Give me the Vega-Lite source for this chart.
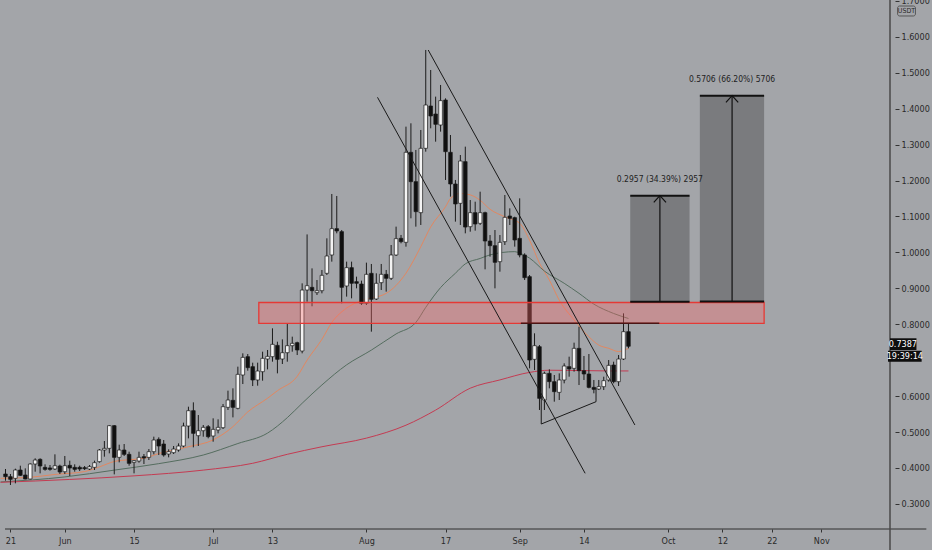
{
  "$schema": "https://vega.github.io/schema/vega-lite/v6.json",
  "width": 895,
  "height": 529,
  "autosize": {"type": "none"},
  "padding": {"left": 0, "top": 0, "right": 37, "bottom": 21},
  "background": "#a3a5a9",
  "config": {"view": {"stroke": null}},
  "datasets": {
    "candles": [
      {"d": "2020-05-20", "o": 0.3832, "h": 0.3971, "l": 0.3646, "c": 0.3757},
      {"d": "2020-05-21", "o": 0.3757, "h": 0.3832, "l": 0.3526, "c": 0.3683},
      {"d": "2020-05-22", "o": 0.3711, "h": 0.3980, "l": 0.3572, "c": 0.3943},
      {"d": "2020-05-23", "o": 0.3943, "h": 0.4063, "l": 0.3776, "c": 0.3794},
      {"d": "2020-05-24", "o": 0.3804, "h": 0.3989, "l": 0.3683, "c": 0.3693},
      {"d": "2020-05-25", "o": 0.3693, "h": 0.4128, "l": 0.3683, "c": 0.4110},
      {"d": "2020-05-26", "o": 0.4110, "h": 0.4268, "l": 0.3896, "c": 0.4221},
      {"d": "2020-05-27", "o": 0.4240, "h": 0.4268, "l": 0.3850, "c": 0.4054},
      {"d": "2020-05-28", "o": 0.4017, "h": 0.4101, "l": 0.3924, "c": 0.3961},
      {"d": "2020-05-29", "o": 0.4000, "h": 0.4082, "l": 0.3924, "c": 0.3961},
      {"d": "2020-05-30", "o": 0.3971, "h": 0.4379, "l": 0.3943, "c": 0.4063},
      {"d": "2020-05-31", "o": 0.4054, "h": 0.4091, "l": 0.3832, "c": 0.3887},
      {"d": "2020-06-01", "o": 0.3896, "h": 0.4333, "l": 0.3832, "c": 0.4063},
      {"d": "2020-06-02", "o": 0.4073, "h": 0.4203, "l": 0.3776, "c": 0.3998},
      {"d": "2020-06-03", "o": 0.4017, "h": 0.4101, "l": 0.3896, "c": 0.3961},
      {"d": "2020-06-04", "o": 0.4017, "h": 0.4063, "l": 0.3915, "c": 0.3971},
      {"d": "2020-06-05", "o": 0.4008, "h": 0.4054, "l": 0.3943, "c": 0.3980},
      {"d": "2020-06-06", "o": 0.3971, "h": 0.4082, "l": 0.3943, "c": 0.4036},
      {"d": "2020-06-07", "o": 0.4017, "h": 0.4203, "l": 0.3943, "c": 0.4147},
      {"d": "2020-06-08", "o": 0.4175, "h": 0.4527, "l": 0.4147, "c": 0.4499},
      {"d": "2020-06-09", "o": 0.4499, "h": 0.4750, "l": 0.4314, "c": 0.4546},
      {"d": "2020-06-10", "o": 0.4546, "h": 0.5195, "l": 0.4407, "c": 0.5177},
      {"d": "2020-06-11", "o": 0.5177, "h": 0.5195, "l": 0.3822, "c": 0.4295},
      {"d": "2020-06-12", "o": 0.4295, "h": 0.4648, "l": 0.4156, "c": 0.4499},
      {"d": "2020-06-13", "o": 0.4499, "h": 0.4666, "l": 0.4333, "c": 0.4379},
      {"d": "2020-06-14", "o": 0.4379, "h": 0.4453, "l": 0.4063, "c": 0.4128},
      {"d": "2020-06-15", "o": 0.4156, "h": 0.4221, "l": 0.3850, "c": 0.4203},
      {"d": "2020-06-16", "o": 0.4193, "h": 0.4453, "l": 0.4147, "c": 0.4295},
      {"d": "2020-06-17", "o": 0.4314, "h": 0.4388, "l": 0.4110, "c": 0.4277},
      {"d": "2020-06-18", "o": 0.4295, "h": 0.4527, "l": 0.4221, "c": 0.4453},
      {"d": "2020-06-19", "o": 0.4453, "h": 0.4871, "l": 0.4379, "c": 0.4778},
      {"d": "2020-06-20", "o": 0.4796, "h": 0.4852, "l": 0.4360, "c": 0.4611},
      {"d": "2020-06-21", "o": 0.4666, "h": 0.4778, "l": 0.4314, "c": 0.4360},
      {"d": "2020-06-22", "o": 0.4388, "h": 0.4518, "l": 0.4295, "c": 0.4453},
      {"d": "2020-06-23", "o": 0.4425, "h": 0.4611, "l": 0.4388, "c": 0.4527},
      {"d": "2020-06-24", "o": 0.4499, "h": 0.4685, "l": 0.4453, "c": 0.4611},
      {"d": "2020-06-25", "o": 0.4611, "h": 0.5260, "l": 0.4574, "c": 0.5167},
      {"d": "2020-06-26", "o": 0.5167, "h": 0.5705, "l": 0.4824, "c": 0.5594},
      {"d": "2020-06-27", "o": 0.5594, "h": 0.5826, "l": 0.4574, "c": 0.4963},
      {"d": "2020-06-28", "o": 0.4898, "h": 0.5473, "l": 0.4611, "c": 0.5037},
      {"d": "2020-06-29", "o": 0.5037, "h": 0.5195, "l": 0.4870, "c": 0.5130},
      {"d": "2020-06-30", "o": 0.5149, "h": 0.5195, "l": 0.4824, "c": 0.4870},
      {"d": "2020-07-01", "o": 0.4889, "h": 0.5381, "l": 0.4731, "c": 0.5074},
      {"d": "2020-07-02", "o": 0.5056, "h": 0.5353, "l": 0.4963, "c": 0.5130},
      {"d": "2020-07-03", "o": 0.5121, "h": 0.5780, "l": 0.5084, "c": 0.5705},
      {"d": "2020-07-04", "o": 0.5687, "h": 0.6151, "l": 0.5613, "c": 0.5891},
      {"d": "2020-07-05", "o": 0.5882, "h": 0.6216, "l": 0.5408, "c": 0.5687},
      {"d": "2020-07-06", "o": 0.5659, "h": 0.6819, "l": 0.5631, "c": 0.6605},
      {"d": "2020-07-07", "o": 0.6587, "h": 0.7190, "l": 0.6336, "c": 0.7078},
      {"d": "2020-07-08", "o": 0.7097, "h": 0.7171, "l": 0.6707, "c": 0.6791},
      {"d": "2020-07-09", "o": 0.6819, "h": 0.6930, "l": 0.6280, "c": 0.6448},
      {"d": "2020-07-10", "o": 0.6448, "h": 0.6930, "l": 0.6290, "c": 0.6698},
      {"d": "2020-07-11", "o": 0.6679, "h": 0.7236, "l": 0.6429, "c": 0.7051},
      {"d": "2020-07-12", "o": 0.7032, "h": 0.7283, "l": 0.6744, "c": 0.7106},
      {"d": "2020-07-13", "o": 0.7097, "h": 0.7886, "l": 0.6958, "c": 0.7440},
      {"d": "2020-07-14", "o": 0.7412, "h": 0.7514, "l": 0.6633, "c": 0.7023},
      {"d": "2020-07-15", "o": 0.7032, "h": 0.7579, "l": 0.6893, "c": 0.7208},
      {"d": "2020-07-16", "o": 0.7208, "h": 0.8006, "l": 0.6958, "c": 0.7403},
      {"d": "2020-07-17", "o": 0.7403, "h": 0.7654, "l": 0.7236, "c": 0.7468},
      {"d": "2020-07-18", "o": 0.7487, "h": 0.7514, "l": 0.7143, "c": 0.7283},
      {"d": "2020-07-19", "o": 0.7255, "h": 0.9138, "l": 0.7190, "c": 0.8952},
      {"d": "2020-07-20", "o": 0.8952, "h": 1.0500, "l": 0.8628, "c": 0.9073},
      {"d": "2020-07-21", "o": 0.9027, "h": 0.9555, "l": 0.8500, "c": 0.8934},
      {"d": "2020-07-22", "o": 0.8879, "h": 0.9231, "l": 0.8814, "c": 0.8934},
      {"d": "2020-07-23", "o": 0.8934, "h": 0.9510, "l": 0.8860, "c": 0.9361},
      {"d": "2020-07-24", "o": 0.9417, "h": 1.0391, "l": 0.9370, "c": 0.9899},
      {"d": "2020-07-25", "o": 0.9927, "h": 1.1625, "l": 0.9742, "c": 1.0660},
      {"d": "2020-07-26", "o": 1.0660, "h": 1.1569, "l": 1.0530, "c": 1.0595},
      {"d": "2020-07-27", "o": 1.0577, "h": 1.0623, "l": 0.8582, "c": 0.9027},
      {"d": "2020-07-28", "o": 0.9064, "h": 0.9742, "l": 0.8768, "c": 0.9575},
      {"d": "2020-07-29", "o": 0.9575, "h": 0.9742, "l": 0.8721, "c": 0.9139},
      {"d": "2020-07-30", "o": 0.9185, "h": 0.9324, "l": 0.8999, "c": 0.9139},
      {"d": "2020-07-31", "o": 0.9120, "h": 0.9213, "l": 0.8535, "c": 0.8582},
      {"d": "2020-08-01", "o": 0.8582, "h": 0.9714, "l": 0.8535, "c": 0.9389},
      {"d": "2020-08-02", "o": 0.9417, "h": 0.9677, "l": 0.7793, "c": 0.8693},
      {"d": "2020-08-03", "o": 0.8703, "h": 0.9417, "l": 0.8675, "c": 0.9139},
      {"d": "2020-08-04", "o": 0.9157, "h": 0.9677, "l": 0.8953, "c": 0.9389},
      {"d": "2020-08-05", "o": 0.9389, "h": 0.9510, "l": 0.8907, "c": 0.9278},
      {"d": "2020-08-06", "o": 0.9278, "h": 1.0205, "l": 0.9231, "c": 0.9927},
      {"d": "2020-08-07", "o": 0.9927, "h": 1.0716, "l": 0.9899, "c": 1.0382},
      {"d": "2020-08-08", "o": 1.0391, "h": 1.0484, "l": 1.0252, "c": 1.0298},
      {"d": "2020-08-09", "o": 1.0280, "h": 1.3499, "l": 1.0159, "c": 1.2785},
      {"d": "2020-08-10", "o": 1.2785, "h": 1.3592, "l": 1.0948, "c": 1.1968},
      {"d": "2020-08-11", "o": 1.1968, "h": 1.2850, "l": 1.0716, "c": 1.1133},
      {"d": "2020-08-12", "o": 1.1105, "h": 1.3406, "l": 1.0762, "c": 1.2896},
      {"d": "2020-08-13", "o": 1.2896, "h": 1.5633, "l": 1.2803, "c": 1.4102},
      {"d": "2020-08-14", "o": 1.4074, "h": 1.5076, "l": 1.3453, "c": 1.3796},
      {"d": "2020-08-15", "o": 1.3851, "h": 1.4334, "l": 1.3081, "c": 1.3564},
      {"d": "2020-08-16", "o": 1.3545, "h": 1.4659, "l": 1.3360, "c": 1.4223},
      {"d": "2020-08-17", "o": 1.4241, "h": 1.4287, "l": 1.2015, "c": 1.2803},
      {"d": "2020-08-18", "o": 1.2785, "h": 1.3267, "l": 1.1551, "c": 1.1903},
      {"d": "2020-08-19", "o": 1.1903, "h": 1.2015, "l": 1.0855, "c": 1.1347},
      {"d": "2020-08-20", "o": 1.1365, "h": 1.2710, "l": 1.0762, "c": 1.2543},
      {"d": "2020-08-21", "o": 1.2525, "h": 1.2942, "l": 1.0530, "c": 1.0705},
      {"d": "2020-08-22", "o": 1.0715, "h": 1.1457, "l": 1.0576, "c": 1.1105},
      {"d": "2020-08-23", "o": 1.1105, "h": 1.1411, "l": 1.0604, "c": 1.0789},
      {"d": "2020-08-24", "o": 1.0808, "h": 1.1689, "l": 1.0762, "c": 1.1105},
      {"d": "2020-08-25", "o": 1.1105, "h": 1.1133, "l": 0.9528, "c": 1.0316},
      {"d": "2020-08-26", "o": 1.0316, "h": 1.0483, "l": 0.9880, "c": 1.0186},
      {"d": "2020-08-27", "o": 1.0186, "h": 1.0622, "l": 0.8999, "c": 0.9723},
      {"d": "2020-08-28", "o": 0.9741, "h": 1.0483, "l": 0.9463, "c": 1.0279},
      {"d": "2020-08-29", "o": 1.0298, "h": 1.1597, "l": 1.0205, "c": 1.0975},
      {"d": "2020-08-30", "o": 1.1012, "h": 1.1225, "l": 1.0762, "c": 1.0947},
      {"d": "2020-08-31", "o": 1.0966, "h": 1.0994, "l": 1.0159, "c": 1.0344},
      {"d": "2020-09-01", "o": 1.0390, "h": 1.1504, "l": 0.9862, "c": 0.9927},
      {"d": "2020-09-02", "o": 0.9927, "h": 0.9973, "l": 0.9231, "c": 0.9296},
      {"d": "2020-09-03", "o": 0.9324, "h": 0.9370, "l": 0.6772, "c": 0.7004},
      {"d": "2020-09-04", "o": 0.7023, "h": 0.7747, "l": 0.6726, "c": 0.7403},
      {"d": "2020-09-05", "o": 0.7375, "h": 0.7422, "l": 0.5613, "c": 0.5937},
      {"d": "2020-09-06", "o": 0.5891, "h": 0.6680, "l": 0.5613, "c": 0.6633},
      {"d": "2020-09-07", "o": 0.6633, "h": 0.6744, "l": 0.6216, "c": 0.6401},
      {"d": "2020-09-08", "o": 0.6401, "h": 0.6587, "l": 0.5845, "c": 0.6123},
      {"d": "2020-09-09", "o": 0.6104, "h": 0.6633, "l": 0.5891, "c": 0.6448},
      {"d": "2020-09-10", "o": 0.6448, "h": 0.6912, "l": 0.6355, "c": 0.6837},
      {"d": "2020-09-11", "o": 0.6819, "h": 0.7097, "l": 0.6540, "c": 0.6754},
      {"d": "2020-09-12", "o": 0.6772, "h": 0.7487, "l": 0.6680, "c": 0.7329},
      {"d": "2020-09-13", "o": 0.7329, "h": 0.7932, "l": 0.6308, "c": 0.6707},
      {"d": "2020-09-14", "o": 0.6707, "h": 0.7116, "l": 0.6448, "c": 0.6615},
      {"d": "2020-09-15", "o": 0.6615, "h": 0.7171, "l": 0.6216, "c": 0.6243},
      {"d": "2020-09-16", "o": 0.6243, "h": 0.6448, "l": 0.6077, "c": 0.6188},
      {"d": "2020-09-17", "o": 0.6197, "h": 0.6448, "l": 0.6169, "c": 0.6262},
      {"d": "2020-09-18", "o": 0.6262, "h": 0.6540, "l": 0.6169, "c": 0.6429},
      {"d": "2020-09-19", "o": 0.6448, "h": 0.7004, "l": 0.6401, "c": 0.6856},
      {"d": "2020-09-20", "o": 0.6865, "h": 0.6958, "l": 0.6355, "c": 0.6401},
      {"d": "2020-09-21", "o": 0.6401, "h": 0.7143, "l": 0.6281, "c": 0.7032},
      {"d": "2020-09-22", "o": 0.7032, "h": 0.8303, "l": 0.7004, "c": 0.7793},
      {"d": "2020-09-23", "o": 0.7793, "h": 0.8025, "l": 0.7329, "c": 0.7387}
    ],
    "ma": [
      {"s": "ema20", "d": "2020-05-19", "p": 0.371},
      {"s": "ema20", "d": "2020-05-25", "p": 0.374},
      {"s": "ema20", "d": "2020-05-30", "p": 0.382},
      {"s": "ema20", "d": "2020-06-05", "p": 0.390},
      {"s": "ema20", "d": "2020-06-08", "p": 0.403},
      {"s": "ema20", "d": "2020-06-11", "p": 0.418},
      {"s": "ema20", "d": "2020-06-14", "p": 0.423},
      {"s": "ema20", "d": "2020-06-17", "p": 0.427},
      {"s": "ema20", "d": "2020-06-20", "p": 0.440},
      {"s": "ema20", "d": "2020-06-26", "p": 0.459},
      {"s": "ema20", "d": "2020-07-01", "p": 0.478},
      {"s": "ema20", "d": "2020-07-05", "p": 0.515},
      {"s": "ema20", "d": "2020-07-08", "p": 0.556},
      {"s": "ema20", "d": "2020-07-12", "p": 0.594},
      {"s": "ema20", "d": "2020-07-14", "p": 0.615},
      {"s": "ema20", "d": "2020-07-18", "p": 0.655},
      {"s": "ema20", "d": "2020-07-20", "p": 0.700},
      {"s": "ema20", "d": "2020-07-23", "p": 0.758},
      {"s": "ema20", "d": "2020-07-25", "p": 0.805},
      {"s": "ema20", "d": "2020-07-28", "p": 0.845},
      {"s": "ema20", "d": "2020-07-31", "p": 0.866},
      {"s": "ema20", "d": "2020-08-05", "p": 0.886},
      {"s": "ema20", "d": "2020-08-09", "p": 0.942},
      {"s": "ema20", "d": "2020-08-12", "p": 1.016},
      {"s": "ema20", "d": "2020-08-14", "p": 1.071},
      {"s": "ema20", "d": "2020-08-17", "p": 1.127},
      {"s": "ema20", "d": "2020-08-18", "p": 1.150},
      {"s": "ema20", "d": "2020-08-20", "p": 1.164},
      {"s": "ema20", "d": "2020-08-22", "p": 1.160},
      {"s": "ema20", "d": "2020-08-24", "p": 1.145},
      {"s": "ema20", "d": "2020-08-26", "p": 1.120},
      {"s": "ema20", "d": "2020-08-29", "p": 1.099},
      {"s": "ema20", "d": "2020-09-01", "p": 1.081},
      {"s": "ema20", "d": "2020-09-03", "p": 1.034},
      {"s": "ema20", "d": "2020-09-05", "p": 0.970},
      {"s": "ema20", "d": "2020-09-07", "p": 0.923},
      {"s": "ema20", "d": "2020-09-09", "p": 0.867},
      {"s": "ema20", "d": "2020-09-12", "p": 0.812},
      {"s": "ema20", "d": "2020-09-15", "p": 0.765},
      {"s": "ema20", "d": "2020-09-17", "p": 0.742},
      {"s": "ema20", "d": "2020-09-19", "p": 0.733},
      {"s": "ema20", "d": "2020-09-21", "p": 0.724},
      {"s": "ema20", "d": "2020-09-23", "p": 0.733},
      {"s": "ema50", "d": "2020-05-19", "p": 0.361},
      {"s": "ema50", "d": "2020-06-01", "p": 0.375},
      {"s": "ema50", "d": "2020-06-11", "p": 0.394},
      {"s": "ema50", "d": "2020-06-20", "p": 0.412},
      {"s": "ema50", "d": "2020-06-29", "p": 0.436},
      {"s": "ema50", "d": "2020-07-06", "p": 0.468},
      {"s": "ema50", "d": "2020-07-12", "p": 0.497},
      {"s": "ema50", "d": "2020-07-16", "p": 0.540},
      {"s": "ema50", "d": "2020-07-19", "p": 0.580},
      {"s": "ema50", "d": "2020-07-23", "p": 0.631},
      {"s": "ema50", "d": "2020-07-28", "p": 0.687},
      {"s": "ema50", "d": "2020-08-02", "p": 0.728},
      {"s": "ema50", "d": "2020-08-07", "p": 0.773},
      {"s": "ema50", "d": "2020-08-11", "p": 0.805},
      {"s": "ema50", "d": "2020-08-13", "p": 0.847},
      {"s": "ema50", "d": "2020-08-16", "p": 0.902},
      {"s": "ema50", "d": "2020-08-19", "p": 0.942},
      {"s": "ema50", "d": "2020-08-21", "p": 0.968},
      {"s": "ema50", "d": "2020-08-24", "p": 0.983},
      {"s": "ema50", "d": "2020-08-26", "p": 0.993},
      {"s": "ema50", "d": "2020-08-31", "p": 1.002},
      {"s": "ema50", "d": "2020-09-01", "p": 0.998},
      {"s": "ema50", "d": "2020-09-03", "p": 0.984},
      {"s": "ema50", "d": "2020-09-06", "p": 0.948},
      {"s": "ema50", "d": "2020-09-10", "p": 0.914},
      {"s": "ema50", "d": "2020-09-13", "p": 0.886},
      {"s": "ema50", "d": "2020-09-16", "p": 0.856},
      {"s": "ema50", "d": "2020-09-20", "p": 0.830},
      {"s": "ema50", "d": "2020-09-23", "p": 0.816},
      {"s": "ema200", "d": "2020-05-19", "p": 0.360},
      {"s": "ema200", "d": "2020-06-02", "p": 0.368},
      {"s": "ema200", "d": "2020-06-15", "p": 0.378},
      {"s": "ema200", "d": "2020-06-29", "p": 0.394},
      {"s": "ema200", "d": "2020-07-09", "p": 0.413},
      {"s": "ema200", "d": "2020-07-16", "p": 0.438},
      {"s": "ema200", "d": "2020-07-23", "p": 0.459},
      {"s": "ema200", "d": "2020-08-01", "p": 0.483},
      {"s": "ema200", "d": "2020-08-09", "p": 0.519},
      {"s": "ema200", "d": "2020-08-15", "p": 0.561},
      {"s": "ema200", "d": "2020-08-22", "p": 0.622},
      {"s": "ema200", "d": "2020-08-28", "p": 0.645},
      {"s": "ema200", "d": "2020-09-03", "p": 0.666},
      {"s": "ema200", "d": "2020-09-07", "p": 0.672},
      {"s": "ema200", "d": "2020-09-14", "p": 0.671},
      {"s": "ema200", "d": "2020-09-19", "p": 0.670},
      {"s": "ema200", "d": "2020-09-23", "p": 0.670}
    ],
    "zone": [
      {"d": "2020-07-10T05:45:00Z", "d2": "2020-10-20T10:33:00Z", "p": 0.8026, "p2": 0.8605}
    ],
    "zline": [
      {"d": "2020-09-01T05:45:00Z", "d2": "2020-09-29T05:45:00Z", "p": 0.8026}
    ],
    "lines": [
      {"g": "upper", "i": 0, "d": "2020-08-13T12:00:00Z", "p": 1.5632},
      {"g": "upper", "i": 1, "d": "2020-09-24T07:12:00Z", "p": 0.5196},
      {"g": "lower", "i": 0, "d": "2020-08-03T05:45:00Z", "p": 1.4316},
      {"g": "lower", "i": 1, "d": "2020-09-14T05:45:00Z", "p": 0.3851},
      {"g": "base", "i": 0, "d": "2020-09-05T08:38:00Z", "p": 0.6003},
      {"g": "base", "i": 1, "d": "2020-09-05T08:38:00Z", "p": 0.5223},
      {"g": "base", "i": 2, "d": "2020-09-16T10:33:00Z", "p": 0.5844},
      {"g": "base", "i": 3, "d": "2020-09-16T10:33:00Z", "p": 0.6217}
    ],
    "boxes": [
      {"d": "2020-09-23T08:38:00Z", "d2": "2020-10-05T08:38:00Z", "p": 0.8627, "p2": 1.1577},
      {"d": "2020-10-07T10:33:00Z", "d2": "2020-10-20T10:33:00Z", "p": 0.8630, "p2": 1.4361}
    ],
    "edges": [
      {"d": "2020-09-23T08:38:00Z", "d2": "2020-10-05T08:38:00Z", "p": 0.8627},
      {"d": "2020-09-23T08:38:00Z", "d2": "2020-10-05T08:38:00Z", "p": 1.1577},
      {"d": "2020-10-07T10:33:00Z", "d2": "2020-10-20T10:33:00Z", "p": 0.8630},
      {"d": "2020-10-07T10:33:00Z", "d2": "2020-10-20T10:33:00Z", "p": 1.4361}
    ],
    "arrows": [
      {"d": "2020-09-29T08:38:00Z", "p": 0.8627, "p2": 1.1577},
      {"d": "2020-10-13T23:02:00Z", "p": 0.8630, "p2": 1.4361}
    ],
    "heads": [
      {"d": "2020-09-29T08:38:00Z", "p": 1.1577},
      {"d": "2020-10-13T23:02:00Z", "p": 1.4361}
    ],
    "labels": [
      {"d": "2020-09-29T08:38:00Z", "p": 1.2034, "t": "0.2957 (34.39%) 2957"},
      {"d": "2020-10-13T23:02:00Z", "p": 1.4817, "t": "0.5706 (66.20%) 5706"}
    ],
    "hframe": [
      {"d": "2020-05-19T21:36:00Z", "d2": "2020-11-22T06:00:00Z", "p": 0.2301}
    ],
    "vframe": [
      {"d": "2020-11-14T21:36:00Z", "p": 0.1717, "p2": 1.7024}
    ],
    "pricebox": [
      {"d": "2020-11-14T21:36:00Z", "d2": "2020-11-20T06:00:00Z", "p": 0.7283, "p2": 0.7609},
      {"d": "2020-11-14T12:00:00Z", "d2": "2020-11-21T07:12:00Z", "p": 0.6957, "p2": 0.7263}
    ],
    "pricetext": [
      {"d": "2020-11-17T12:00:00Z", "p": 0.7446, "t": "0.7387"},
      {"d": "2020-11-17T21:36:00Z", "p": 0.7110, "t": "19:39:14"}
    ],
    "unitbox": [
      {"d": "2020-11-16T10:33:00Z", "d2": "2020-11-20T01:00:00Z", "p": 1.6579, "p2": 1.6857}
    ],
    "unittext": [
      {"d": "2020-11-18T05:45:00Z", "p": 1.6718, "t": "USDT"}
    ]
  },
  "encoding": {
    "x": {
      "field": "d",
      "type": "temporal",
      "scale": {
        "type": "utc",
        "domain": [
          {"year": 2020, "month": 5, "date": 19, "hours": 21, "minutes": 36, "utc": true},
          {"year": 2020, "month": 11, "date": 14, "hours": 21, "minutes": 36, "utc": true}
        ]
      },
      "axis": {
        "title": null,
        "values": [
          {"year": 2020, "month": 5, "date": 21, "utc": true},
          {"year": 2020, "month": 6, "date": 1, "utc": true},
          {"year": 2020, "month": 6, "date": 15, "utc": true},
          {"year": 2020, "month": 7, "date": 1, "utc": true},
          {"year": 2020, "month": 7, "date": 13, "utc": true},
          {"year": 2020, "month": 8, "date": 1, "utc": true},
          {"year": 2020, "month": 8, "date": 17, "utc": true},
          {"year": 2020, "month": 9, "date": 1, "utc": true},
          {"year": 2020, "month": 9, "date": 14, "utc": true},
          {"year": 2020, "month": 10, "date": 1, "utc": true},
          {"year": 2020, "month": 10, "date": 12, "utc": true},
          {"year": 2020, "month": 10, "date": 22, "utc": true},
          {"year": 2020, "month": 11, "date": 1, "utc": true}
        ],
        "labelExpr": "utcdate(datum.value) == 1 ? utcFormat(datum.value, '%b') : '' + utcdate(datum.value)",
        "domain": false,
        "grid": false,
        "tickSize": 3,
        "tickColor": "#333333",
        "labelColor": "#2a2a2a",
        "labelFont": "Liberation Sans Narrow, DejaVu Sans Condensed, Arial Narrow, sans-serif",
        "labelFontSize": 9,
        "labelPadding": 4,
        "labelFlush": false,
        "labelOverlap": false
      }
    },
    "y": {
      "field": "p",
      "type": "quantitative",
      "scale": {"domain": [0.2301, 1.7024], "nice": false, "zero": false},
      "axis": {
        "title": null,
        "orient": "right",
        "values": [0.3, 0.4, 0.5, 0.6, 0.8, 0.9, 1, 1.1, 1.2, 1.3, 1.4, 1.5, 1.6, 1.7],
        "format": ".4f",
        "domain": false,
        "grid": false,
        "tickSize": 4,
        "tickColor": "#333333",
        "labelColor": "#2a2a2a",
        "labelFont": "Liberation Sans Narrow, DejaVu Sans Condensed, Arial Narrow, sans-serif",
        "labelFontSize": 9,
        "labelPadding": 2,
        "labelFlush": false,
        "labelOverlap": false
      }
    }
  },
  "layer": [
    {
      "data": {"name": "ma"},
      "mark": {"type": "line", "strokeWidth": 1, "interpolate": "monotone"},
      "encoding": {
        "color": {
          "field": "s",
          "type": "nominal",
          "scale": {"domain": ["ema20", "ema50", "ema200"], "range": ["#e3875f", "#556d5f", "#c43b52"]},
          "legend": null
        }
      }
    },
    {
      "data": {"name": "candles"},
      "mark": {"type": "rule", "color": "#1c1c1c", "strokeWidth": 1},
      "encoding": {
        "y": {
          "field": "l",
          "type": "quantitative",
          "axis": {
            "title": null,
            "orient": "right",
            "values": [0.3, 0.4, 0.5, 0.6, 0.8, 0.9, 1, 1.1, 1.2, 1.3, 1.4, 1.5, 1.6, 1.7],
            "format": ".4f",
            "domain": false,
            "grid": false,
            "tickSize": 4,
            "tickColor": "#333333",
            "labelColor": "#2a2a2a",
            "labelFont": "Liberation Sans Narrow, DejaVu Sans Condensed, Arial Narrow, sans-serif",
            "labelFontSize": 9,
            "labelPadding": 2,
            "labelFlush": false,
            "labelOverlap": false
          }
        },
        "y2": {"field": "h"}
      }
    },
    {
      "data": {"name": "candles"},
      "mark": {"type": "bar", "width": 3.6, "stroke": "#1a1a1a", "strokeWidth": 0.7},
      "encoding": {
        "y": {
          "field": "o",
          "type": "quantitative",
          "axis": {
            "title": null,
            "orient": "right",
            "values": [0.3, 0.4, 0.5, 0.6, 0.8, 0.9, 1, 1.1, 1.2, 1.3, 1.4, 1.5, 1.6, 1.7],
            "format": ".4f",
            "domain": false,
            "grid": false,
            "tickSize": 4,
            "tickColor": "#333333",
            "labelColor": "#2a2a2a",
            "labelFont": "Liberation Sans Narrow, DejaVu Sans Condensed, Arial Narrow, sans-serif",
            "labelFontSize": 9,
            "labelPadding": 2,
            "labelFlush": false,
            "labelOverlap": false
          }
        },
        "y2": {"field": "c"},
        "color": {"condition": {"test": "datum.c >= datum.o", "value": "#f3f3f3"}, "value": "#101010"}
      }
    },
    {
      "data": {"name": "zone"},
      "mark": {"type": "rect", "fill": "#ff6b6b", "fillOpacity": 0.35, "stroke": "#e53935", "strokeWidth": 1.3},
      "encoding": {"x2": {"field": "d2"}, "y2": {"field": "p2"}}
    },
    {
      "data": {"name": "zline"},
      "mark": {"type": "rule", "color": "#4a1414", "strokeWidth": 1.5},
      "encoding": {"x2": {"field": "d2"}}
    },
    {
      "data": {"name": "lines"},
      "mark": {"type": "line", "color": "#1a1a1a", "strokeWidth": 1},
      "encoding": {"detail": {"field": "g"}, "order": {"field": "i"}}
    },
    {
      "data": {"name": "boxes"},
      "mark": {"type": "rect", "fill": "#000000", "fillOpacity": 0.25},
      "encoding": {"x2": {"field": "d2"}, "y2": {"field": "p2"}}
    },
    {
      "data": {"name": "edges"},
      "mark": {"type": "rule", "color": "#111111", "strokeWidth": 2},
      "encoding": {"x2": {"field": "d2"}}
    },
    {
      "data": {"name": "arrows"},
      "mark": {"type": "rule", "color": "#111111", "strokeWidth": 1.2},
      "encoding": {"y2": {"field": "p2"}}
    },
    {
      "data": {"name": "heads"},
      "mark": {"type": "point", "shape": "M-1,1.1L0,0L1,1.1", "filled": false, "stroke": "#111111", "strokeWidth": 1.2, "size": 150, "opacity": 1}
    },
    {
      "data": {"name": "labels"},
      "mark": {"type": "text", "font": "Liberation Sans Narrow, DejaVu Sans Condensed, Arial Narrow, sans-serif", "fontSize": 8.5, "color": "#1e1e1e", "align": "center", "baseline": "middle"},
      "encoding": {"text": {"field": "t"}}
    },
    {
      "data": {"name": "hframe"},
      "mark": {"type": "rule", "color": "#2e2e2e", "strokeWidth": 1},
      "encoding": {"x2": {"field": "d2"}}
    },
    {
      "data": {"name": "vframe"},
      "mark": {"type": "rule", "color": "#4a4a4a", "strokeWidth": 1.5},
      "encoding": {"y2": {"field": "p2"}}
    },
    {
      "data": {"name": "pricebox"},
      "mark": {"type": "rect", "fill": "#0e0e0e"},
      "encoding": {"x2": {"field": "d2"}, "y2": {"field": "p2"}}
    },
    {
      "data": {"name": "pricetext"},
      "mark": {"type": "text", "font": "Liberation Sans Narrow, DejaVu Sans Condensed, Arial Narrow, sans-serif", "fontSize": 9, "color": "#ffffff", "align": "center", "baseline": "middle"},
      "encoding": {"text": {"field": "t"}}
    },
    {
      "data": {"name": "unitbox"},
      "mark": {"type": "rect", "fill": null, "fillOpacity": 0, "stroke": "#555555", "strokeWidth": 1, "cornerRadius": 2},
      "encoding": {"x2": {"field": "d2"}, "y2": {"field": "p2"}}
    },
    {
      "data": {"name": "unittext"},
      "mark": {"type": "text", "font": "Liberation Sans Narrow, DejaVu Sans Condensed, Arial Narrow, sans-serif", "fontSize": 7, "color": "#2a2a2a", "align": "center", "baseline": "middle"},
      "encoding": {"text": {"field": "t"}}
    }
  ]
}
